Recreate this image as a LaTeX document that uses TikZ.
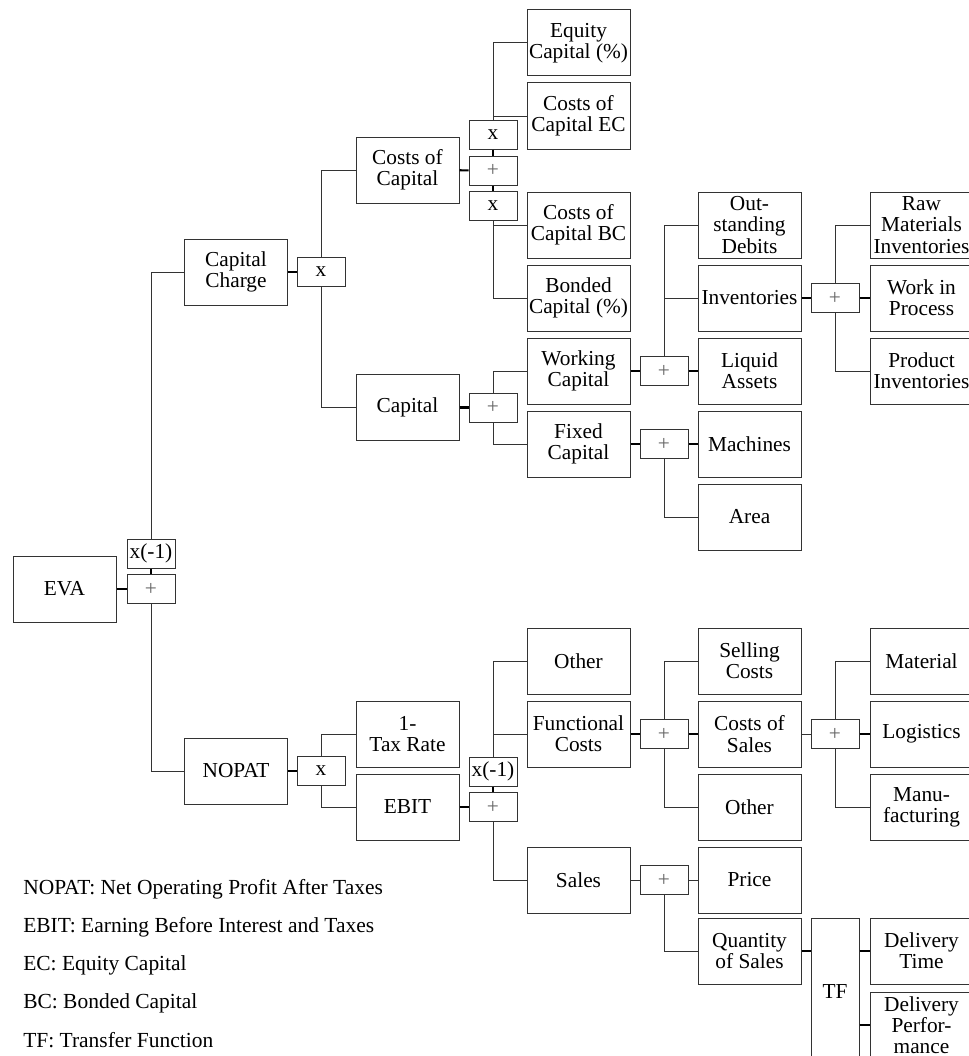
\documentclass[tikz,border=0pt]{standalone}
\usepackage{fontspec}
\setmainfont{Liberation Serif}
\usepackage{tikz}

\newcommand{\plussign}{\textcolor{black!60}{+}}

\begin{document}
\begin{tikzpicture}[x=0.75pt,y=0.75pt,yscale=-1,xscale=1,
    box/.style={draw=black!80,line width=0.75pt,minimum width=77.25pt,minimum height=49.5pt,inner sep=0pt,align=center,font=\fontsize{16}{15.9}\selectfont},
    op/.style={draw=black!80,line width=0.75pt,minimum width=36pt,minimum height=21.75pt,inner sep=0pt,font=\fontsize{16}{15.9}\selectfont},
    tree/.style={draw=black!80,line width=0.75pt},
    link/.style={draw=black,line width=1.6pt},
    thinlink/.style={draw=black!80,line width=0.75pt},
    legend/.style={anchor=base west,inner sep=0pt,font=\fontsize{16.1}{16}\selectfont}]
        \clip (0,0) rectangle (969,1056);
        % root
        \node [box] (eva) at (64.5,589) {EVA};
        \node [op] (evax) at (151,553.5) {x(-1)};
        \node [op] (evaplus) at (151,589) {\plussign};
        % capital charge branch
        \node [box] (capcharge) at (236,272) {Capital\\Charge};
        \node [op] (ccx) at (321,272) {x};
        \node [box] (coc) at (407.5,170) {Costs of\\Capital};
        \node [box] (capital) at (407.5,407.5) {Capital};
        \node [op] (cocx1) at (493,134.5) {x};
        \node [op] (cocplus) at (493,170.5) {\plussign};
        \node [op] (cocx2) at (493,206) {x};
        \node [box] (eqcap) at (578.5,43) {Equity\\Capital (\%)};
        \node [box] (cocec) at (578.5,116) {Costs of\\Capital EC};
        \node [box] (cocbc) at (578.5,225) {Costs of\\Capital BC};
        \node [box] (bondcap) at (578.5,298) {Bonded\\Capital (\%)};
        \node [op] (capplus) at (493,407.5) {\plussign};
        \node [box] (wc) at (578.5,371) {Working\\Capital};
        \node [box] (fc) at (578.5,444) {Fixed\\Capital};
        \node [op] (wcplus) at (664,371) {\plussign};
        \node [op] (fcplus) at (664,444) {\plussign};
        \node [box] (osd) at (749.5,225) {Out-\\standing\\Debits};
        \node [box] (inv) at (749.5,298) {Inventories};
        \node [box] (liq) at (749.5,371) {Liquid\\Assets};
        \node [box] (mach) at (749.5,444) {Machines};
        \node [box] (area) at (749.5,517) {Area};
        \node [op] (invplus) at (835,298) {\plussign};
        \node [box] (raw) at (921.5,225) {Raw\\Materials\\Inventories};
        \node [box] (wip) at (921.5,298) {Work in\\Process};
        \node [box] (prod) at (921.5,371) {Product\\Inventories};
        % nopat branch
        \node [box] (nopat) at (236,771) {NOPAT};
        \node [op] (nopx) at (321,771) {x};
        \node [box] (tax) at (407.5,734) {1-\\Tax Rate};
        \node [box] (ebit) at (407.5,807) {EBIT};
        \node [op] (ebitx) at (493,771.5) {x(-1)};
        \node [op] (ebitplus) at (493,807) {\plussign};
        \node [box] (other1) at (578.5,661) {Other};
        \node [box] (func) at (578.5,734) {Functional\\Costs};
        \node [box] (sales) at (578.5,880) {Sales};
        \node [op] (funcplus) at (664,734) {\plussign};
        \node [op] (salesplus) at (664,880) {\plussign};
        \node [box] (sell) at (749.5,661) {Selling\\Costs};
        \node [box] (cos) at (749.5,734) {Costs of\\Sales};
        \node [box] (other2) at (749.5,807) {Other};
        \node [box] (price) at (749.5,880) {Price};
        \node [box] (qty) at (749.5,951) {Quantity\\of Sales};
        \node [op] (cosplus) at (835,734) {\plussign};
        \node [op,minimum height=110.25pt] (tf) at (835,991.5) {TF};
        \node [box] (mat) at (921.5,661) {Material};
        \node [box] (logi) at (921.5,734) {Logistics};
        \node [box] (manu) at (921.5,807) {Manu-\\facturing};
        \node [box] (dtime) at (921.5,951) {Delivery\\Time};
        \node [box] (dperf) at (921.5,1025) {Delivery\\Perfor-\\mance};
        % legend
        \node [legend] (lgnopat) at (23,894) {NOPAT: Net Operating Profit After Taxes};
        \node [legend] (lgebit) at (23,932) {EBIT: Earning Before Interest and Taxes};
        \node [legend] (lgec) at (23,970) {EC: Equity Capital};
        \node [legend] (lgbc) at (23,1008) {BC: Bonded Capital};
        \node [legend] (lgtf) at (23,1047) {TF: Transfer Function};
        % thick links to operators
        \draw [link] (eva) -- (evaplus);
        \draw [link] (evax) -- (evaplus);
        \draw [link] (capcharge) -- (ccx);
        \draw [link] (coc) -- (cocplus);
        \draw [link] (cocx1) -- (cocplus);
        \draw [link] (cocplus) -- (cocx2);
        \draw [link] (capital) -- (capplus);
        \draw [link] (wc) -- (wcplus);
        \draw [link] (wcplus) -- (liq);
        \draw [link] (inv) -- (invplus);
        \draw [link] (invplus) -- (wip);
        \draw [link] (fc) -- (fcplus);
        \draw [link] (fcplus) -- (mach);
        \draw [link] (nopat) -- (nopx);
        \draw [link] (ebit) -- (ebitplus);
        \draw [link] (ebitx) -- (ebitplus);
        \draw [link] (func) -- (funcplus);
        \draw [link] (funcplus) -- (cos);
        \draw [thinlink] (cos) -- (cosplus);
        \draw [link] (cosplus) -- (logi);
        \draw [thinlink] (sales) -- (salesplus);
        \draw [thinlink] (salesplus) -- (price);
        \draw [link] (qty) -- (tf.west |- qty.east);
        \draw [link] (tf.east |- dtime.west) -- (dtime);
        \draw [link] (tf.east |- dperf.west) -- (dperf);
        % tree lines
        \draw [tree] (evax) |- (capcharge);
        \draw [tree] (evaplus) |- (nopat);
        \draw [tree] (ccx) |- (coc);
        \draw [tree] (ccx) |- (capital);
        \draw [tree] (cocx1) |- (eqcap);
        \draw [tree] (cocx1) |- (cocec);
        \draw [tree] (cocx2) |- (cocbc);
        \draw [tree] (cocx2) |- (bondcap);
        \draw [tree] (capplus) |- (wc);
        \draw [tree] (capplus) |- (fc);
        \draw [tree] (wcplus) |- (osd);
        \draw [tree] (wcplus) |- (inv);
        \draw [tree] (invplus) |- (raw);
        \draw [tree] (invplus) |- (prod);
        \draw [tree] (fcplus) |- (area);
        \draw [tree] (nopx) |- (tax);
        \draw [tree] (nopx) |- (ebit);
        \draw [tree] (ebitx) |- (other1);
        \draw [tree] (ebitx) |- (func);
        \draw [tree] (ebitplus) |- (sales);
        \draw [tree] (funcplus) |- (sell);
        \draw [tree] (funcplus) |- (other2);
        \draw [tree] (cosplus) |- (mat);
        \draw [tree] (cosplus) |- (manu);
        \draw [tree] (salesplus) |- (qty);
\end{tikzpicture}
\end{document}
